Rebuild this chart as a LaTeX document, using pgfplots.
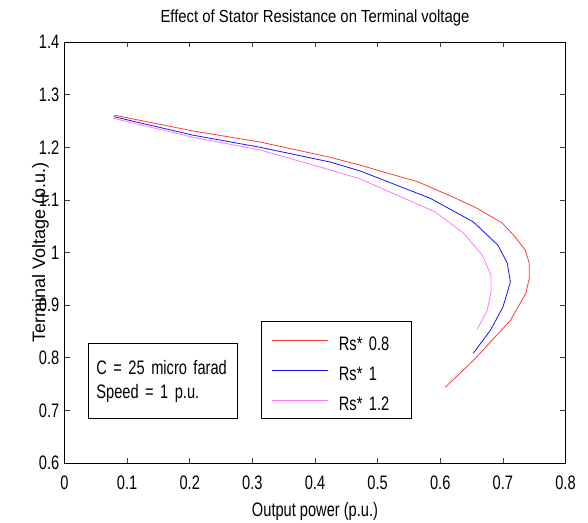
\documentclass[border=0pt]{standalone}
\usepackage{fontspec}
\setmainfont{Liberation Sans}[FakeStretch=0.75]
\newfontfamily\titlefont{Liberation Sans}[FakeStretch=0.85]
\newfontfamily\plainsans{Liberation Sans}
\usepackage{pgfplots}
\pgfplotsset{compat=1.18}

\definecolor{rsred}{RGB}{255,60,60}
\definecolor{rsblue}{RGB}{20,20,255}
\definecolor{rspink}{RGB}{255,120,255}

\newcommand{\txtfont}{\fontsize{19.5}{22}\selectfont}

\begin{document}
\begin{tikzpicture}
\useasboundingbox (-64.5pt,-59pt) rectangle (523.5pt,463pt);
\begin{axis}[
  at={(0pt,0pt)}, anchor=south west,
  scale only axis, width=501pt, height=421pt,
  xmin=0, xmax=0.8, ymin=0.6, ymax=1.4,
  xtick={0,0.1,0.2,0.3,0.4,0.5,0.6,0.7,0.8},
  ytick={0.6,0.7,0.8,0.9,1,1.1,1.2,1.3,1.4},
  /pgf/number format/assume math mode=true,
  /pgf/number format/fixed,
  tick label style={font=\txtfont},
  xticklabel style={anchor=base, inner sep=0pt, yshift=-26pt},
  yticklabel style={anchor=east, inner sep=0pt, xshift=-5pt},
  tick align=inside, major tick length=5pt,
  tick style={black!75, line width=0.6pt},
  axis line style={line width=0.8pt},
  title={Effect of Stator Resistance on Terminal voltage},
  title style={at={([yshift=13pt]axis description cs:0.5,1)}, anchor=base, inner sep=0pt,
    font=\fontsize{17.5}{20}\titlefont},
  xlabel={Output power (p.u.)},
  xlabel style={at={([yshift=-53pt]axis description cs:0.5,0)}, anchor=base, inner sep=0pt, font=\txtfont},
  ylabel={Terminal Voltage (p.u.)},
  ylabel style={font=\fontsize{18}{20}\plainsans, inner sep=0pt},
  ylabel shift=-10pt,
  legend style={at={(axis description cs:0.3922,0.3373)}, anchor=north west,
    draw=black, line width=0.8pt, fill=white,
    inner xsep=10.7pt, inner ysep=8pt, row sep=9pt, column sep=10pt,
    font=\txtfont, cells={anchor=west},
    nodes={inner sep=0pt, text height=21pt, text depth=0pt, text width=62pt}},
  legend image code/.code={\draw[#1, line width=0.8pt] (0pt,0pt) -- (56pt,0pt);},
]

% Rs scaled by 0.8
\addplot[rsred, line width=0.8pt, no marks] coordinates {
  (0.079,1.261) (0.205,1.231) (0.312,1.210) (0.424,1.181) (0.472,1.166)
  (0.565,1.134) (0.621,1.105) (0.659,1.084) (0.699,1.056) (0.720,1.029)
  (0.736,1.004) (0.742,0.980) (0.742,0.951) (0.737,0.923) (0.712,0.871)
  (0.653,0.795) (0.608,0.744)
};
\addlegendentry{Rs* 0.8}

% nominal Rs
\addplot[rsblue, line width=0.8pt, no marks] coordinates {
  (0.079,1.258) (0.205,1.223) (0.312,1.200) (0.424,1.172) (0.472,1.155)
  (0.584,1.103) (0.653,1.058) (0.692,1.014) (0.707,0.980) (0.712,0.944)
  (0.700,0.896) (0.680,0.852) (0.653,0.809)
};
\addlegendentry{Rs* 1}

% Rs scaled by 1.2
\addplot[rspink, line width=0.8pt, no marks] coordinates {
  (0.078,1.255) (0.205,1.219) (0.312,1.195) (0.424,1.157) (0.472,1.140)
  (0.592,1.077) (0.637,1.037) (0.667,0.995) (0.681,0.957) (0.681,0.925)
  (0.675,0.890) (0.659,0.854)
};
\addlegendentry{Rs* 1.2}

% operating conditions
\node[draw, line width=0.8pt, fill=white, anchor=north west,
      inner xsep=8pt, inner ysep=16.5pt, text width=133pt, align=left,
      font=\fontsize{19.5}{24}\selectfont]
  at (axis description cs:0.0469,0.285) {C = 25 micro farad\\Speed = 1 p.u.};
\end{axis}
\end{tikzpicture}
\end{document}
